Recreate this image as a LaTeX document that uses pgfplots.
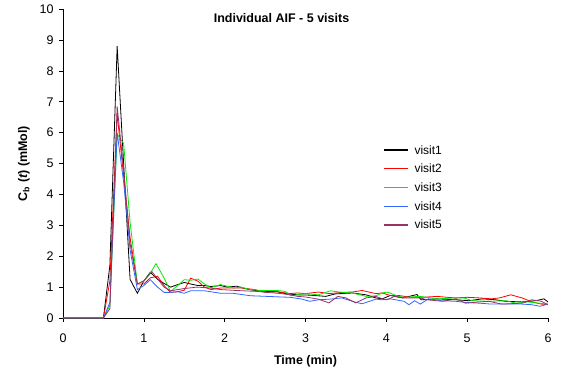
\documentclass[border=0pt]{standalone}
\usepackage{pgfplots}
\pgfplotsset{compat=1.18}
\usepackage{fontspec}
\setmainfont{Liberation Sans}
\definecolor{visA}{RGB}{0,0,0}
\definecolor{visB}{RGB}{255,0,0}
\definecolor{visC}{RGB}{0,235,0}
\definecolor{visD}{RGB}{51,102,255}
\definecolor{visE}{RGB}{153,51,102}
\begin{document}
\begin{tikzpicture}[x=1pt,y=1pt]
\useasboundingbox (0,0) rectangle (563,373);
\begin{axis}[
  at={(63pt,55pt)}, anchor=south west,
  scale only axis, width=485pt, height=309pt,
  xmin=0, xmax=6, ymin=0, ymax=10,
  axis x line*=bottom, axis y line*=left,
  axis line style={-, black, line width=0.6pt},
  xtick={0,1,2,3,4,5,6}, ytick={0,1,2,3,4,5,6,7,8,9,10},
  tick align=outside, major tick length=4pt,
  tick style={black, line width=0.6pt},
  /pgf/number format/assume math mode=true,
  tick label style={font=\fontsize{12.5}{14}\selectfont},
  xticklabel style={yshift=-8pt},
  yticklabel style={xshift=-2pt},
  xlabel={\bfseries Time (min)},
  xlabel style={font=\fontsize{12.5}{14}\selectfont, yshift=-6pt},
  ylabel={\bfseries C\textsubscript{b}\ (\itshape t\upshape) (mMol)},
  ylabel style={font=\fontsize{12.5}{14}\selectfont, yshift=3pt},
  legend style={draw=none, fill=none, at={(0.66,0.566)}, anchor=north west,
    inner sep=0pt, row sep=4.5pt, font=\fontsize{12}{14}\selectfont,
    /tikz/every odd column/.append style={column sep=4pt}},
  legend cell align=left,
  legend image code/.code={\draw[#1, line width=1.25pt] (0pt,0.3pt) -- (24pt,0.3pt);},
  every axis plot/.append style={line width=0.8pt, mark=none},
]
\addplot[color=visA] coordinates {(0,0)(0.42,0)(0.5,0)(0.58,1.7)(0.67,8.8)(0.75,5.0)(0.83,1.25)(0.92,0.8)(1.0,1.2)(1.08,1.48)(1.17,1.25)(1.25,1.12)(1.33,1.0)(1.42,1.08)(1.5,1.15)(1.58,1.1)(1.67,1.05)(1.75,1.05)(1.83,1.02)(1.95,1.05)(2.03,1.0)(2.15,1.03)(2.25,0.95)(2.35,0.9)(2.52,0.86)(2.65,0.85)(2.75,0.79)(2.9,0.75)(3.05,0.74)(3.25,0.70)(3.37,0.78)(3.58,0.81)(3.75,0.75)(3.87,0.65)(3.95,0.62)(4.05,0.73)(4.2,0.65)(4.38,0.76)(4.43,0.59)(4.63,0.62)(4.86,0.59)(5.02,0.56)(5.19,0.62)(5.35,0.59)(5.48,0.54)(5.68,0.52)(5.85,0.56)(5.95,0.62)(6.0,0.52)};
\addlegendentry{visit1}
\addplot[color=visB] coordinates {(0,0)(0.42,0)(0.5,0)(0.58,1.2)(0.67,6.6)(0.75,4.6)(0.83,2.6)(0.92,1.1)(1.0,1.1)(1.08,1.3)(1.17,1.35)(1.25,1.05)(1.33,0.83)(1.42,0.85)(1.5,0.9)(1.58,1.29)(1.67,1.19)(1.75,1.0)(1.83,0.92)(1.95,0.97)(2.11,0.97)(2.22,0.97)(2.37,0.92)(2.5,0.83)(2.65,0.85)(2.81,0.79)(2.9,0.81)(3.0,0.79)(3.16,0.84)(3.3,0.79)(3.45,0.83)(3.58,0.84)(3.70,0.89)(3.87,0.79)(3.95,0.81)(4.05,0.73)(4.15,0.73)(4.3,0.67)(4.45,0.67)(4.63,0.70)(4.75,0.67)(4.86,0.65)(5.0,0.67)(5.15,0.65)(5.3,0.62)(5.4,0.65)(5.54,0.75)(5.68,0.65)(5.8,0.52)(5.92,0.45)(6.0,0.43)};
\addlegendentry{visit2}
\addplot[color=visC] coordinates {(0,0)(0.42,0)(0.5,0)(0.58,0.4)(0.67,5.95)(0.75,5.65)(0.83,3.1)(0.92,1.1)(1.0,1.2)(1.08,1.45)(1.15,1.76)(1.25,1.3)(1.33,0.86)(1.42,1.05)(1.5,1.24)(1.58,1.22)(1.67,1.26)(1.75,1.1)(1.83,0.98)(1.95,1.08)(2.05,1.02)(2.11,0.97)(2.2,1.0)(2.32,0.92)(2.45,0.89)(2.65,0.89)(2.75,0.86)(2.82,0.72)(3.0,0.79)(3.16,0.75)(3.31,0.88)(3.45,0.83)(3.58,0.81)(3.75,0.70)(3.87,0.72)(3.95,0.81)(4.01,0.84)(4.15,0.70)(4.22,0.67)(4.42,0.70)(4.63,0.62)(4.86,0.65)(4.96,0.65)(5.06,0.56)(5.27,0.54)(5.48,0.56)(5.6,0.48)(5.75,0.52)(5.89,0.48)(6.0,0.45)};
\addlegendentry{visit3}
\addplot[color=visD] coordinates {(0,0)(0.42,0)(0.5,0)(0.58,0.5)(0.67,6.0)(0.75,4.4)(0.83,2.2)(0.92,0.92)(1.0,1.05)(1.08,1.24)(1.17,1.0)(1.25,0.83)(1.33,0.83)(1.42,0.85)(1.5,0.8)(1.58,0.88)(1.67,0.88)(1.75,0.88)(1.83,0.85)(1.95,0.8)(2.1,0.8)(2.32,0.72)(2.52,0.70)(2.7,0.68)(2.81,0.67)(2.96,0.61)(3.05,0.54)(3.16,0.59)(3.3,0.61)(3.45,0.65)(3.58,0.54)(3.70,0.46)(3.87,0.61)(3.95,0.59)(4.05,0.62)(4.22,0.54)(4.28,0.43)(4.35,0.56)(4.42,0.45)(4.52,0.62)(4.68,0.56)(4.86,0.54)(5.0,0.5)(5.15,0.48)(5.3,0.45)(5.48,0.45)(5.68,0.45)(5.8,0.43)(5.9,0.38)(6.0,0.45)};
\addlegendentry{visit4}
\addplot[color=visE] coordinates {(0,0)(0.42,0)(0.5,0)(0.58,0.3)(0.67,6.85)(0.75,4.8)(0.83,2.4)(0.92,1.1)(1.0,1.2)(1.1,1.5)(1.25,1.0)(1.33,0.88)(1.49,0.95)(1.66,1.0)(1.82,0.97)(1.95,0.92)(2.15,0.89)(2.4,0.86)(2.52,0.83)(2.7,0.79)(2.81,0.75)(2.9,0.70)(3.0,0.68)(3.16,0.61)(3.29,0.49)(3.4,0.70)(3.5,0.65)(3.62,0.49)(3.75,0.65)(3.87,0.70)(3.95,0.62)(4.01,0.59)(4.1,0.70)(4.22,0.65)(4.42,0.65)(4.5,0.59)(4.7,0.54)(4.86,0.62)(4.98,0.48)(5.15,0.52)(5.27,0.54)(5.43,0.45)(5.68,0.48)(5.8,0.59)(5.92,0.54)(6.0,0.43)};
\addlegendentry{visit5}
\end{axis}
\node[font=\bfseries\fontsize{12.5}{14}\selectfont] at (281.5,355) {Individual AIF - 5 visits};
\end{tikzpicture}
\end{document}
